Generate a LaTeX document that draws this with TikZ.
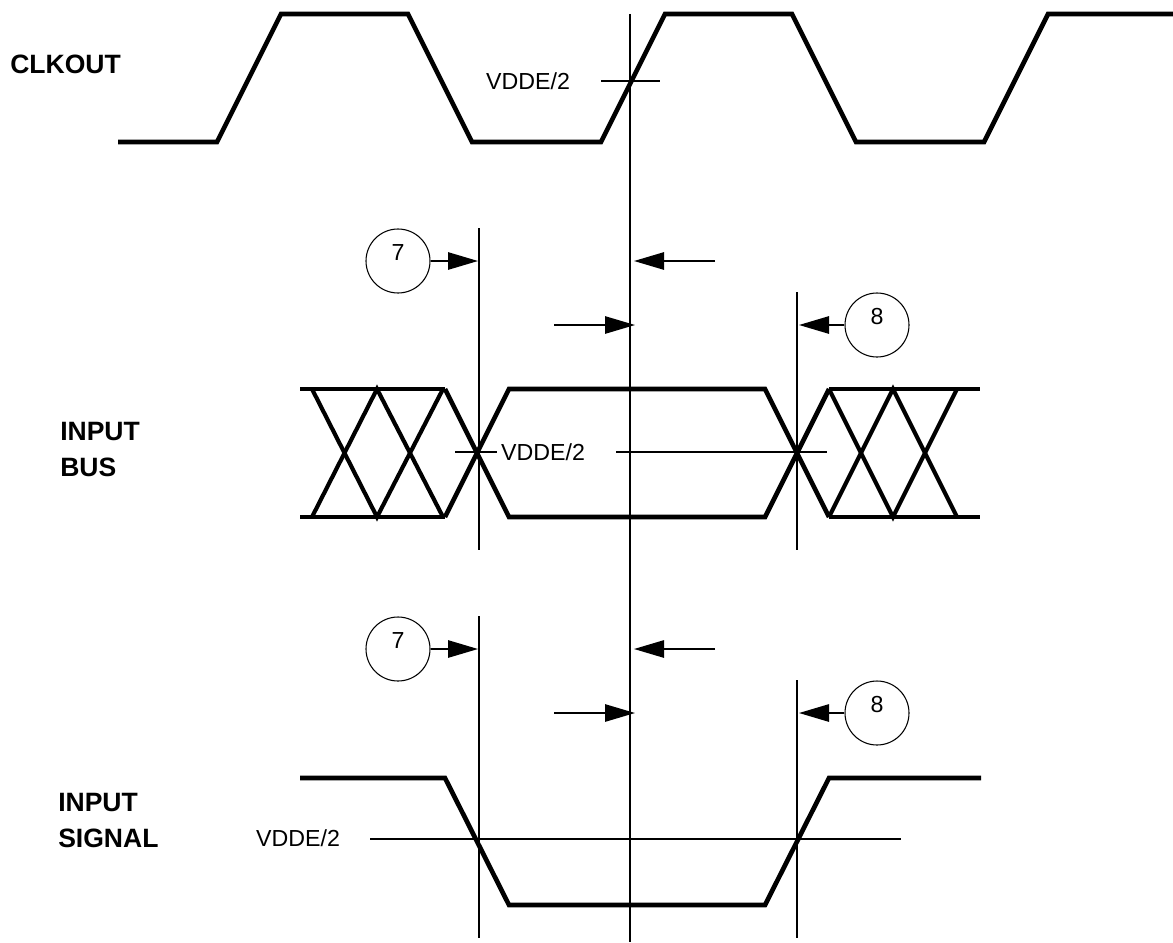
\documentclass[tikz,border=0pt]{standalone}
\usepackage{fontspec}
\setmainfont{Liberation Sans}
\usetikzlibrary{arrows.meta}
\tikzset{
 wave/.style={line width=3.5pt,line join=miter,line cap=butt},
 cross/.style={line width=3.1pt,line join=miter,line cap=butt},
 thin line/.style={line width=1.3pt},
 arr/.style={line width=1.3pt,-{Triangle[length=22.5pt,width=13pt]}},
 num/.style={circle,draw,line width=0.8pt,minimum size=48pt,inner sep=0pt},
 lab/.style={font=\fontsize{17.4pt}{20pt}\selectfont,inner sep=0pt},
 sig/.style={font=\fontsize{19.9pt}{27pt}\selectfont\bfseries,inner sep=0pt,align=left,anchor=west}
}
\begin{document}
\begin{tikzpicture}[x=0.75pt,y=-0.75pt]
\useasboundingbox (0,0) rectangle (1173,942);
% clock
\draw[wave] (118,142)--(217,142)--(281,14)--(408,14)--(472,142)--(601,142)--(665,14)--(792,14)--(856,142)--(984,142)--(1048,14)--(1173,14);
\node[sig] (clk) at (10,64) {CLKOUT};
\node[lab] (v1) at (528,81) {VDDE/2};
\coordinate (t1) at (630,14); \coordinate (b1) at (630,942);
\draw[thin line] (t1)--(b1);
\coordinate (h1a) at (601,81); \coordinate (h1b) at (660,81);
\draw[thin line] (h1a)--(h1b);
% group 1
\coordinate (l1t) at (479,228); \coordinate (l1b) at (479,550);
\draw[thin line] (l1t)--(l1b);
\coordinate (r1t) at (797,292); \coordinate (r1b) at (797,550);
\draw[thin line] (r1t)--(r1b);
\node[num] (n7a) at (398,261) {};
\node[lab] (t7a) at (398,253) {7};
\coordinate (a7a) at (478,261);
\draw[arr] (n7a)--(a7a);
\coordinate (s1) at (715,261); \coordinate (e1) at (634,261);
\draw[arr] (s1)--(e1);
\coordinate (s2) at (554,325); \coordinate (e2) at (635,325);
\draw[arr] (s2)--(e2);
\node[num] (n8a) at (877,325) {};
\node[lab] (t8a) at (877,317) {8};
\coordinate (a8a) at (799,325);
\draw[arr] (n8a)--(a8a);
% bus
\draw[wave] (300,389)--(445,389);
\draw[wave] (300,517)--(445,517);
\draw[wave] (829,389)--(980,389);
\draw[wave] (829,517)--(980,517);
\draw[wave] (445,389)--(509,517)--(765,517)--(829,389);
\draw[wave] (445,517)--(509,389)--(765,389)--(829,517);
\draw[cross] (312,389)--(377,517)--(443,389);
\draw[cross] (312,517)--(377,389)--(443,517);
\draw[cross] (829,389)--(893,517)--(957,389);
\draw[cross] (829,517)--(893,389)--(957,517);
\node[sig] (ib) at (60,449) {INPUT\\BUS};
\coordinate (h2a) at (455,452); \coordinate (h2b) at (497,452);
\draw[thin line] (h2a)--(h2b);
\node[lab] (v2) at (543,452) {VDDE/2};
\coordinate (h3a) at (616,452); \coordinate (h3b) at (827,452);
\draw[thin line] (h3a)--(h3b);
% group 2
\coordinate (l2t) at (479,616); \coordinate (l2b) at (479,938);
\draw[thin line] (l2t)--(l2b);
\coordinate (r2t) at (797,680); \coordinate (r2b) at (797,938);
\draw[thin line] (r2t)--(r2b);
\node[num] (n7b) at (398,649) {};
\node[lab] (t7b) at (398,641) {7};
\coordinate (a7b) at (478,649);
\draw[arr] (n7b)--(a7b);
\coordinate (s3) at (715,649); \coordinate (e3) at (634,649);
\draw[arr] (s3)--(e3);
\coordinate (s4) at (554,713); \coordinate (e4) at (635,713);
\draw[arr] (s4)--(e4);
\node[num] (n8b) at (877,713) {};
\node[lab] (t8b) at (877,705) {8};
\coordinate (a8b) at (799,713);
\draw[arr] (n8b)--(a8b);
% signal
\draw[wave] (300,778)--(445,778)--(509,905)--(765,905)--(829,778)--(981,778);
\node[sig] (is) at (58,820) {INPUT\\SIGNAL};
\node[lab] (v3) at (298,838) {VDDE/2};
\coordinate (h4a) at (370,839); \coordinate (h4b) at (901,839);
\draw[thin line] (h4a)--(h4b);
\end{tikzpicture}
\end{document}
